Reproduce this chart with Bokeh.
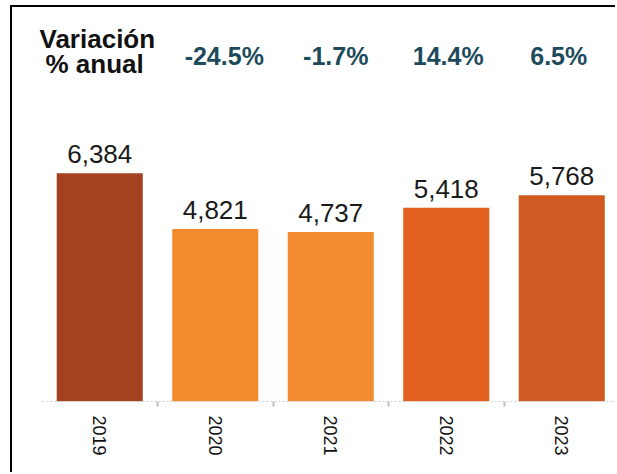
from bokeh.plotting import figure
from bokeh.models import Range1d, FixedTicker, ColumnDataSource
from bokeh.core.properties import value
from bokeh.embed import file_html
from bokeh.resources import INLINE

# ---- data ----
years = ["2019", "2020", "2021", "2022", "2023"]
values = [6384, 4821, 4737, 5418, 5768]
pct_years = ["2020", "2021", "2022", "2023"]
pct_labels = ["-24.5%", "-1.7%", "14.4%", "6.5%"]
bar_colors = ["#A4421F", "#F28A2E", "#F28B31", "#E26121", "#CF5A22"]

# ---- layout constants (image pixel geometry) ----
CANVAS_X0, CANVAS_Y0 = 12, 7          # image coords of canvas origin
W, H = 605, 467
BASE_Y = 401                           # image y of baseline
CAT_W = 115.5                          # px per category
FIRST_EDGE = 41.5                      # image x of left edge of first category
UNITS_PER_PX = 27.96
TXT_FIX = 11                           # baseline correction (px)

x0 = -0.5 - (FIRST_EDGE - CANVAS_X0) / CAT_W
x1 = x0 + W / CAT_W
y_end = (BASE_Y - CANVAS_Y0) * UNITS_PER_PX


def dx(img_x):
    return x0 + (img_x - CANVAS_X0) / CAT_W


def dy(img_y):
    return (BASE_Y - img_y + TXT_FIX) * UNITS_PER_PX


xs = list(range(len(years)))

p = figure(width=W, height=H, x_range=Range1d(x0, x1), y_range=Range1d(0, y_end),
           output_backend="svg", toolbar_location=None,
           min_border_left=0, min_border_right=0, min_border_top=0,
           min_border_bottom=H - (BASE_Y - CANVAS_Y0))
p.margin = (5, 0, 0, 10)
p.styles = {"border-top": "2px solid black", "border-left": "2px solid black"}
p.outline_line_color = None
p.grid.visible = False
p.yaxis.visible = False
p.background_fill_color = "white"
p.border_fill_color = "white"

src = ColumnDataSource(dict(x=xs, top=values, color=bar_colors,
                            label=[f"{v:,}" for v in values]))
p.vbar(x="x", top="top", width=0.745, fill_color="color", line_color=None, source=src)
p.text(x="x", y="top", text="label", source=src, text_align="center",
       text_baseline="alphabetic", y_offset=-(8 + TXT_FIX), text_font=value("Liberation Sans"),
       text_font_size="26px", text_color="#1a1a1a")

# header: annual variation
pct_x = [years.index(y) for y in pct_years]
pct_shift = [9, 5, 2, -3]
psrc = ColumnDataSource(dict(x=pct_x, label=pct_labels, xo=pct_shift))
p.text(x="x", y=dy(66.5), text="label", x_offset="xo", source=psrc, text_align="center",
       text_baseline="alphabetic", text_font=value("Liberation Sans"),
       text_font_style="bold", text_font_size="25px", text_color="#1D4B5C")
p.text(x=[dx(39), dx(45)], y=[dy(49), dy(74)], text=["Variación", "% anual"],
       text_align="left", text_baseline="alphabetic", text_font=value("Liberation Sans"),
       text_font_style="bold", text_font_size="26px", text_color="#111111")

# x axis
ax = p.xaxis[0]
ax.ticker = FixedTicker(ticks=xs, minor_ticks=[i + 0.5 for i in xs])
ax.major_label_overrides = {i: y for i, y in zip(xs, years)}
ax.major_label_orientation = "vertical"
ax.major_label_text_font = "Liberation Sans"
ax.major_label_text_font_size = "18px"
ax.major_label_text_color = "#111111"
ax.major_tick_line_color = None
ax.major_tick_out = 0
ax.major_tick_in = 0
ax.major_label_standoff = 9
ax.minor_tick_out = 5
ax.minor_tick_in = 0
ax.minor_tick_line_color = "#BFBFBF"
ax.minor_tick_line_width = 2
ax.axis_line_color = "#D0D0D0"
ax.axis_line_dash = "2 2"
ax.axis_line_width = 1
ax.bounds = (-0.5, x1)

open("out.html", "w").write(file_html(p, INLINE))
